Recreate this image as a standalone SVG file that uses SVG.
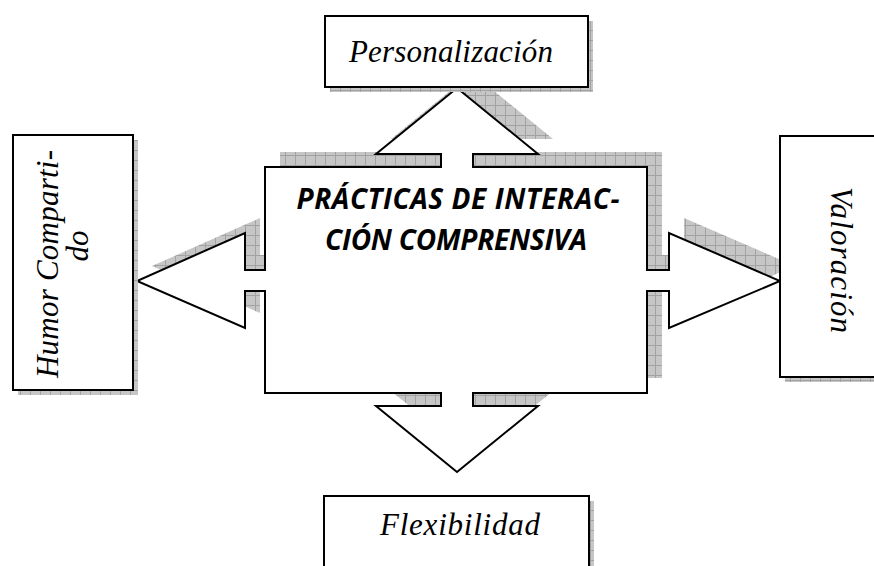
<svg xmlns="http://www.w3.org/2000/svg" width="874" height="566" viewBox="0 0 874 566">
<style>
.box{fill:#fff;stroke:#000;stroke-width:2}
.sh{fill:url(#grid);stroke:none}
.lbl{font-family:"Liberation Serif","Times New Roman",serif;font-style:italic;font-size:31px;fill:#000;text-anchor:middle}
.title{font-family:"Open Sans","DejaVu Sans",sans-serif;font-style:italic;font-weight:bold;font-size:28px;fill:#000;text-anchor:middle}
</style>
<defs>
<pattern id="grid" patternUnits="userSpaceOnUse" width="10" height="10">
<rect width="10" height="10" fill="#c6c6c6"/>
<path d="M0 0.5H10M0.5 0V10" stroke="#a2a2a2" stroke-width="1" fill="none"/>
</pattern>
</defs>
<rect width="874" height="566" fill="#fff"/>
<g id="connectors">
<polygon class="sh" transform="translate(15,-15)" points="265,167 441,167 441,154 376,154 457,88 538,154 473,154 473,167 647,167 647,270 669,270 669,233 780,281 669,328 669,291 647,291 647,393 473,393 473,406 538,406 457,472 376,406 441,406 441,393 265,393 265,291 245,291 245,328 137,281 245,233 245,270 265,270"/>
</g>
<g id="center">
<polygon class="box" points="265,167 441,167 441,154 376,154 457,88 538,154 473,154 473,167 647,167 647,270 669,270 669,233 780,281 669,328 669,291 647,291 647,393 473,393 473,406 538,406 457,472 376,406 441,406 441,393 265,393 265,291 245,291 245,328 137,281 245,233 245,270 265,270"/>
<text class="title" x="458" y="209" textLength="323">PRÁCTICAS DE INTERAC-</text>
<text class="title" x="456" y="250" textLength="262">CIÓN COMPRENSIVA</text>
</g>
<g id="personalizacion">
<rect class="sh" x="330" y="21" width="263" height="71"/>
<rect class="box" x="325" y="16" width="263" height="71"/>
<text class="lbl" x="451" y="62" textLength="204">Personalización</text>
</g>
<g id="humor">
<rect class="sh" x="18" y="140" width="120" height="255"/>
<rect class="box" x="13" y="135" width="120" height="255"/>
<text class="lbl" transform="translate(58,264) rotate(-90)" x="0" y="0" textLength="228">Humor Comparti-</text>
<text class="lbl" transform="translate(88,246) rotate(-90)" x="0" y="0">do</text>
</g>
<g id="valoracion">
<rect class="sh" x="785" y="141" width="120" height="241"/>
<rect class="box" x="780" y="136" width="120" height="241"/>
<text class="lbl" transform="translate(831,260) rotate(90)" x="0" y="0" textLength="146">Valoración</text>
</g>
<g id="flexibilidad">
<rect class="sh" x="329" y="501" width="265" height="80"/>
<rect class="box" x="324" y="496" width="265" height="80"/>
<text class="lbl" x="460" y="535" textLength="160">Flexibilidad</text>
</g>
</svg>
